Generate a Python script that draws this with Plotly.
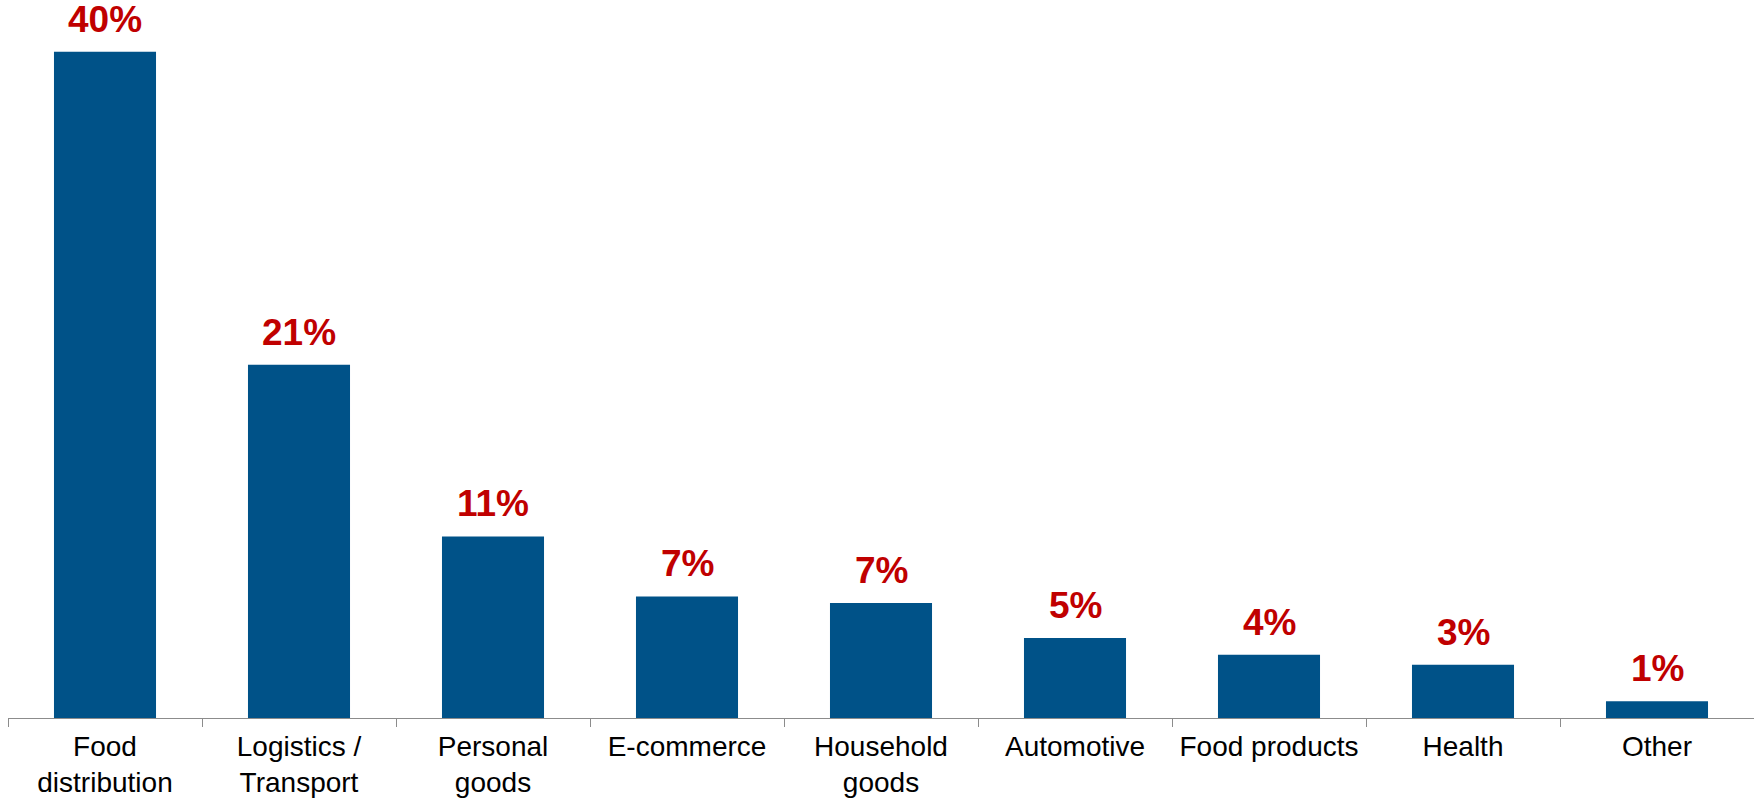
import plotly.graph_objects as go

# Share of volume by sector (percent)
categories = [
    "Food<br>distribution",
    "Logistics /<br>Transport",
    "Personal<br>goods",
    "E-commerce",
    "Household<br>goods",
    "Automotive",
    "Food products",
    "Health",
    "Other",
]
shares = [40.0, 21.2, 10.9, 7.3, 6.9, 4.8, 3.8, 3.2, 1.0]

BAR_COLOR = "#005288"
LABEL_COLOR = "#C00000"
FONT = "Liberation Sans, Arial, sans-serif"

fig = go.Figure(
    go.Bar(
        x=categories,
        y=shares,
        marker=dict(color=BAR_COLOR, line=dict(width=0)),
        hoverinfo="skip",
    )
)

# Value labels above each bar, derived from the bar values
for cat, val in zip(categories, shares):
    fig.add_annotation(
        x=cat,
        y=val,
        text=f"{round(val)}%",
        showarrow=False,
        yanchor="bottom",
        yshift=10,
        font=dict(family=FONT, size=37, color=LABEL_COLOR, weight="bold"),
    )

fig.update_layout(
    width=1754,
    height=803,
    margin=dict(l=8, r=0, t=0, b=85),
    paper_bgcolor="white",
    plot_bgcolor="white",
    bargap=0.474,
    showlegend=False,
    font=dict(family=FONT, size=28, color="black"),
)

fig.update_xaxes(
    showline=True,
    linecolor="#8c8c8c",
    linewidth=1,
    ticks="outside",
    tickson="boundaries",
    ticklen=8,
    tickcolor="#8c8c8c",
    tickwidth=1,
    ticklabelstandoff=3,
    showgrid=False,
    automargin=False,
    tickfont=dict(family=FONT, size=28, color="black"),
)
fig.update_yaxes(
    visible=False,
    range=[0, 43.1],
    showgrid=False,
    zeroline=False,
)

fig.write_html("out.html")
